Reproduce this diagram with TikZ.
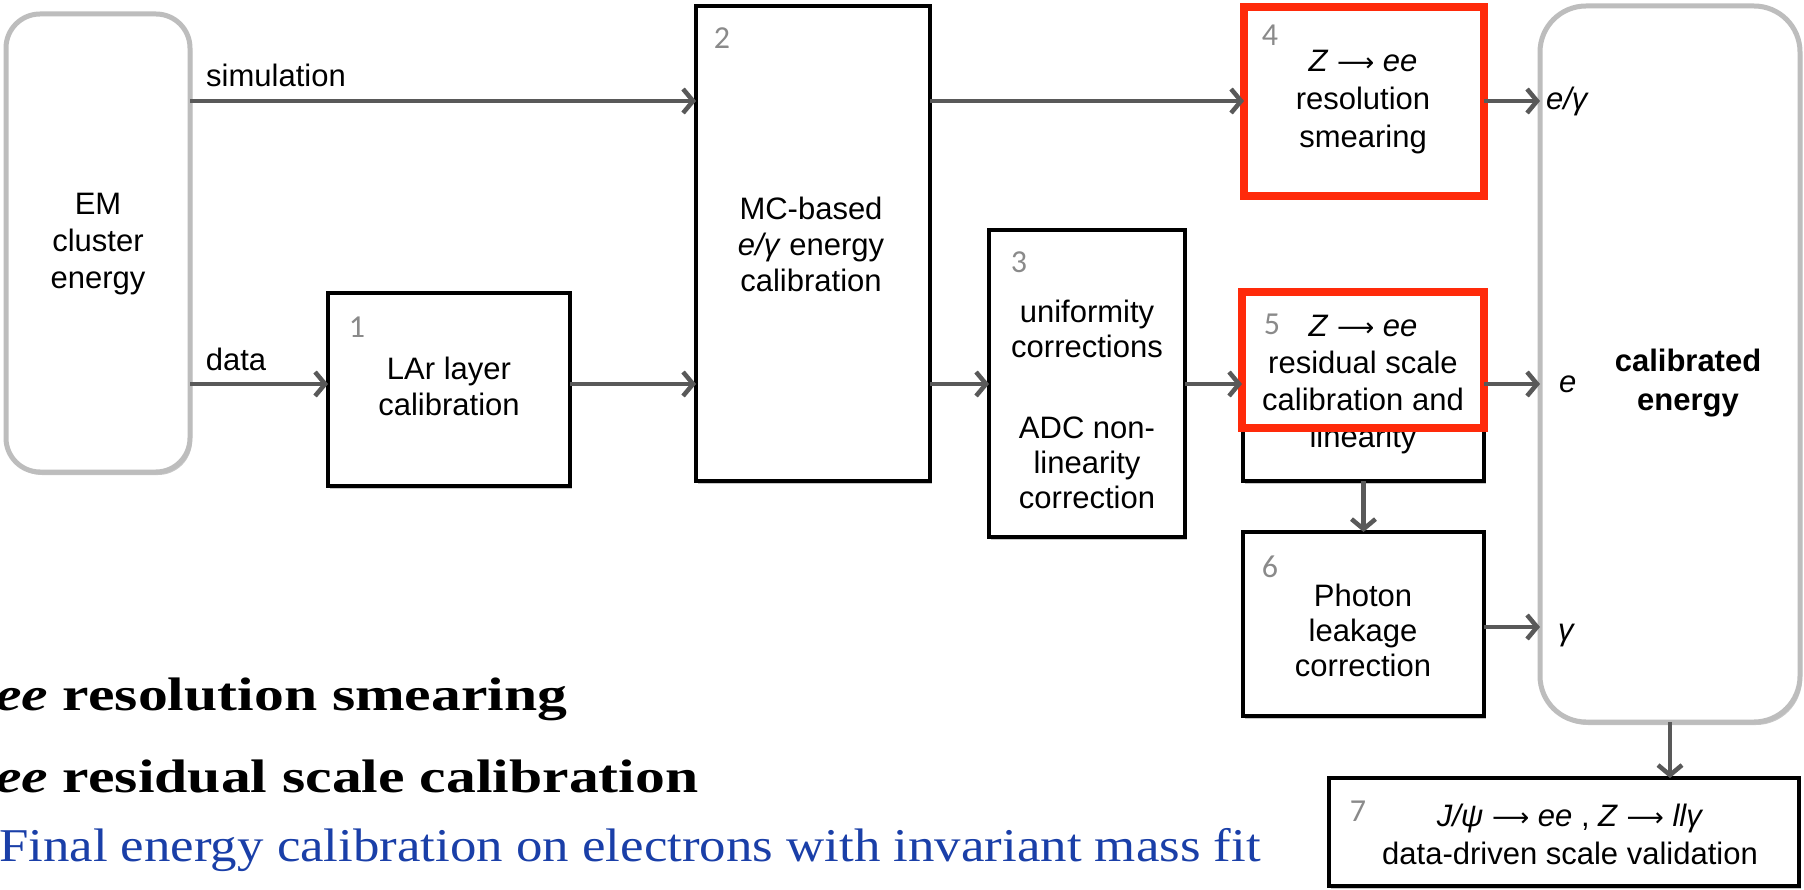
\documentclass[tikz,border=0pt]{standalone}
\usepackage{fontspec}
\newfontfamily\diag{Liberation Sans}
\newfontfamily\numf{Carlito}
\newfontfamily\symf{DejaVu Sans}
\newfontfamily\notebold[FakeStretch=1.27]{Liberation Serif}
\newfontfamily\noteplain[FakeStretch=1.125]{Liberation Serif}
\usetikzlibrary{arrows.meta,shadows}

\definecolor{arrowgray}{HTML}{595959}
\definecolor{framegray}{HTML}{BDBDBD}
\definecolor{hlred}{HTML}{FF2A0A}
\definecolor{numgray}{HTML}{8A8A8A}
\definecolor{noteblue}{HTML}{1A3FA8}

\newcommand{\lto}{{\symf\fontsize{26}{26}\selectfont ⟶}}

\tikzset{
  boxshadow/.style={drop shadow={shadow xshift=2pt, shadow yshift=-3pt, opacity=0.22, fill=black}},
  stepbox/.style={rectangle, draw=black, line width=4pt, fill=white, boxshadow},
  hlbox/.style={rectangle, draw=hlred, line width=8pt},
  roundbox/.style={rectangle, draw=framegray, line width=5pt, fill=white, rounded corners=34pt, boxshadow},
  numlabel/.style={font={\numf\fontsize{32}{32}\selectfont}, text=numgray},
  boxtext/.style={align=center},
  flow/.style={draw=arrowgray, line width=4.5pt, -{Straight Barb[length=10pt, width=24pt]}},
  note/.style={anchor=base west, font={\notebold\bfseries\fontsize{47}{52}\selectfont}},
}

\begin{document}
\begin{tikzpicture}[x=1pt, y=-1pt,
  every node/.style={inner sep=0pt, outer sep=0pt, font={\diag\fontsize{31}{36}\selectfont}}]

  % canvas
  \fill[white] (0,0) rectangle (1804,890);
  \useasboundingbox (0,0) rectangle (1804,890);

  % signal levels
  \coordinate (ya) at (0,101);
  \coordinate (yb) at (0,384);
  \coordinate (yc) at (0,627);

  % input and output frames
  \node[roundbox, minimum width=184pt, minimum height=458pt] (em) at (98,243) {};
  \node[boxtext, font={\diag\fontsize{31}{37}\selectfont}] (emt) at (98,244) {EM\\cluster\\energy};

  \node[roundbox, minimum width=260pt, minimum height=716pt, rounded corners=46pt] (cal) at (1670,364) {};
  \node[boxtext, font={\diag\bfseries\fontsize{31}{39}\selectfont}] (calt) at (1688,383) {calibrated\\energy};
  \node[anchor=west] (lg1) at (1546,101) {\textit{e/γ}};
  \node[anchor=west] (lg2) at (1559,384) {\textit{e}};
  \node[anchor=west] (lg3) at (1558,636) {\textit{γ}};

  % step 1
  \node[stepbox, minimum width=242pt, minimum height=193pt] (b1) at (449,389.5) {};
  \node[numlabel] (n1) at (357,327) {1};
  \node[boxtext] (t1) at (449,386) {LAr layer\\calibration};

  % step 2
  \node[stepbox, minimum width=234pt, minimum height=475pt] (b2) at (813,243.5) {};
  \node[numlabel] (n2) at (722,38) {2};
  \node[boxtext] (t2) at (811,244) {MC-based\\\textit{e/γ} energy\\calibration};

  % step 3
  \node[stepbox, minimum width=196pt, minimum height=307pt] (b3) at (1087,383.5) {};
  \node[numlabel] (n3) at (1019,262) {3};
  \node[boxtext, font={\diag\fontsize{31}{35}\selectfont}] (t3) at (1087,404)
    {uniformity\\corrections\\[46pt]ADC non-\\linearity\\correction};

  % step 4
  \node[hlbox, fill=white, boxshadow, minimum width=240pt, minimum height=189pt] (b4) at (1364,101.5) {};
  \node[numlabel] (n4) at (1270,35) {4};
  \node[boxtext, font={\diag\fontsize{31}{38}\selectfont}] (t4) at (1363,102)
    {\textit{Z} \lto{} \textit{ee}\\resolution\\smearing};

  % step 5
  \node[stepbox, minimum width=241pt, minimum height=188pt] (b5) at (1363.5,387) {};
  \node[numlabel] (n5) at (1272,324) {5};
  \node[boxtext, font={\diag\fontsize{31}{37}\selectfont}] (t5) at (1363,385)
    {\textit{Z} \lto{} \textit{ee}\\residual scale\\calibration and\\linearity};
  \node[hlbox, minimum width=242pt, minimum height=136pt] (r5) at (1363,360) {};

  % step 6
  \node[stepbox, minimum width=241pt, minimum height=184pt] (b6) at (1363.5,624) {};
  \node[numlabel] (n6) at (1270,567) {6};
  \node[boxtext, font={\diag\fontsize{31}{35}\selectfont}] (t6) at (1363,630)
    {Photon\\leakage\\correction};

  % step 7
  \node[stepbox, minimum width=470pt, minimum height=108pt] (b7) at (1564,832) {};
  \node[numlabel] (n7) at (1358,811) {7};
  \node[boxtext, font={\diag\fontsize{31}{38}\selectfont}] (t7) at (1570,834)
    {\textit{J/ψ} \lto{} \textit{ee} , \textit{Z} \lto{} \textit{llγ}\\data-driven scale validation};

  % connections
  \node (lsim) at (276,75) {simulation};
  \node (ldata) at (236,359) {data};
  \draw[flow] (em.east |- ya) -- (b2.west |- ya);
  \draw[flow] (em.east |- yb) -- (b1.west |- yb);
  \draw[flow] (b1.east |- yb) -- (b2.west |- yb);
  \draw[flow] (b2.east |- ya) -- (b4.west |- ya);
  \draw[flow] (b2.east |- yb) -- (b3.west |- yb);
  \draw[flow] (b3.east |- yb) -- (r5.west |- yb);
  \draw[flow] (b4.east |- ya) -- (cal.west |- ya);
  \draw[flow] (r5.east |- yb) -- (cal.west |- yb);
  \draw[flow] (b6.east |- yc) -- (cal.west |- yc);
  \draw[flow] (b5.south) -- (b6.north);
  \draw[flow] (cal.south) -- (cal.south |- b7.north);

  % summary lines
  \node[note] (s4) at (-5,710) {\textit{ee} resolution smearing};
  \node[note] (s5) at (-5,792) {\textit{ee} residual scale calibration};
  \node[anchor=base west, font={\noteplain\fontsize{47}{52}\selectfont}, text=noteblue] (s7) at (-1,861)
    {Final energy calibration on electrons with invariant mass fit};
\end{tikzpicture}
\end{document}
